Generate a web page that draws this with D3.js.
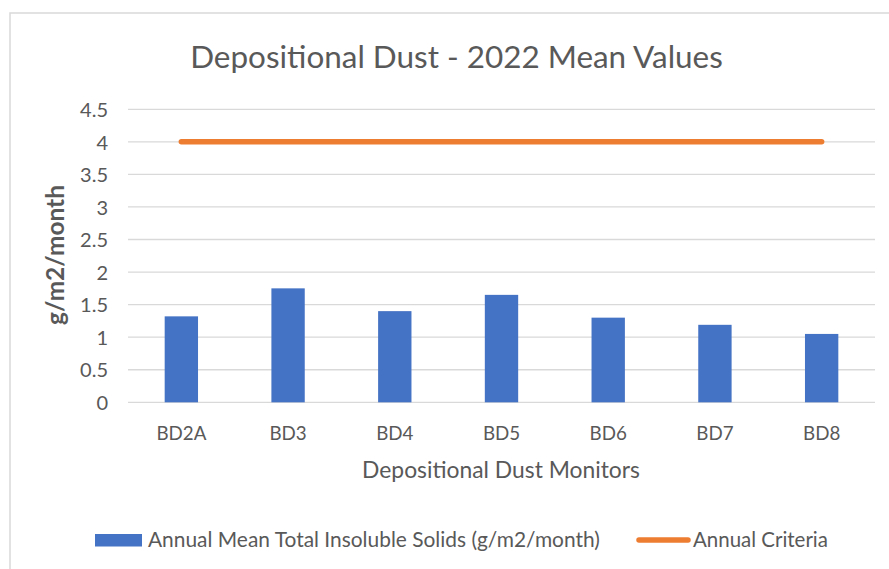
<!DOCTYPE html>
<html><head><meta charset="utf-8">
<script src="https://cdn.jsdelivr.net/npm/d3@7"></script>
<style>body{margin:0;background:#fff}svg{display:block}</style>
</head><body>
<svg id="c" width="889" height="569"></svg>
<script>
const categories = ["BD2A","BD3","BD4","BD5","BD6","BD7","BD8"];
const solids = [1.32, 1.75, 1.40, 1.65, 1.30, 1.19, 1.05];
const criteria = [4, 4, 4, 4, 4, 4, 4];
const yTicks = [0, 0.5, 1, 1.5, 2, 2.5, 3, 3.5, 4, 4.5];
const seriesNames = ["Annual Mean Total Insoluble Solids (g/m2/month)", "Annual Criteria"];

const svg = d3.select("#c");
const FONT = "Lato, 'Open Sans', sans-serif";
const TXT = "#595959";
const m = {left:128, right:875, top:109.3, bottom:402.3};

function fit(sel, w){
  const n = sel.node(); const fs = parseFloat(sel.attr("font-size"));
  const cur = n.getComputedTextLength();
  sel.attr("font-size", fs * w / cur);
  return fs * w / cur;
}

// frame
svg.append("path").attr("d","M10,569 V13 H889").attr("fill","none").attr("stroke","#d9d9d9").attr("stroke-width",1.5);

const x = d3.scaleBand().domain(categories).range([m.left, m.right]).paddingInner(0.6875).paddingOuter(0.34375);
const y = d3.scaleLinear().domain([0,4.5]).range([m.bottom, m.top]);

// gridlines
svg.append("g").selectAll("line").data(yTicks).join("line")
  .attr("x1", m.left).attr("x2", m.right)
  .attr("y1", d=>y(d)).attr("y2", d=>y(d))
  .attr("stroke","#d9d9d9").attr("stroke-width",1.3);

// y axis labels
const yAxis = d3.axisLeft(y).tickValues(yTicks).tickSize(0).tickPadding(0).tickFormat(d3.format("~g"));
const yg = svg.append("g").attr("transform",`translate(108,0)`).call(yAxis);
yg.select(".domain").remove();
yg.selectAll("text").attr("font-family",FONT).attr("fill",TXT).attr("font-size",18).attr("dy","0.36em");
let tfs = fit(yg.selectAll("text").filter(d=>d===4.5), 28);
yg.selectAll("text").attr("font-size", tfs);

// bars
svg.append("g").selectAll("rect").data(categories).join("rect")
  .attr("x", d=>x(d)).attr("width", x.bandwidth())
  .attr("y", (d,i)=>y(solids[i])).attr("height",(d,i)=>y(0)-y(solids[i]))
  .attr("fill","#4472c4");

// criteria line
const line = d3.line().x((d,i)=>x(categories[i])+x.bandwidth()/2).y(d=>y(d));
svg.append("path").datum(criteria).attr("d",line).attr("fill","none")
  .attr("stroke","#ed7d31").attr("stroke-width",5.5).attr("stroke-linecap","round");

// x axis labels
const xAxis = d3.axisBottom(x).tickSize(0).tickPadding(0);
const xg = svg.append("g").attr("transform",`translate(0,440)`).call(xAxis);
xg.select(".domain").remove();
xg.selectAll("text").attr("font-family",FONT).attr("fill",TXT).attr("font-size",18).attr("dy",0);
let cfs = fit(xg.selectAll("text").filter(d=>d==="BD2A"), 50);
xg.selectAll("text").attr("font-size", cfs);

// title
const title = svg.append("text").attr("x",456.5).attr("y",68).attr("text-anchor","middle")
  .attr("font-family",FONT).attr("font-size",30).attr("fill",TXT).text("Depositional Dust - 2022 Mean Values");
fit(title, 533);

// x title
const xt = svg.append("text").attr("x",501).attr("y",478).attr("text-anchor","middle")
  .attr("font-family",FONT).attr("font-size",20).attr("fill",TXT).text("Depositional Dust Monitors");
fit(xt, 278);

// y title
const yt = svg.append("text").attr("transform","translate(64,255) rotate(-90)").attr("text-anchor","middle")
  .attr("font-family",FONT).attr("font-size",20).attr("font-weight","bold").attr("fill",TXT).text("g/m2/month");
fit(yt, 140);

// legend
const lg = svg.append("g");
lg.append("rect").attr("x",95).attr("y",534).attr("width",47).attr("height",12.5).attr("fill","#4472c4");
const l1 = lg.append("text").attr("x",148).attr("y",547).attr("font-family",FONT).attr("font-size",18).attr("fill",TXT).text(seriesNames[0]);
fit(l1, 452);
lg.append("line").attr("x1",639).attr("x2",688).attr("y1",540).attr("y2",540).attr("stroke","#ed7d31").attr("stroke-width",5.5).attr("stroke-linecap","round");
const l2 = lg.append("text").attr("x",693).attr("y",547).attr("font-family",FONT).attr("font-size",18).attr("fill",TXT).text(seriesNames[1]);
fit(l2, 135);
</script>
</body></html>
